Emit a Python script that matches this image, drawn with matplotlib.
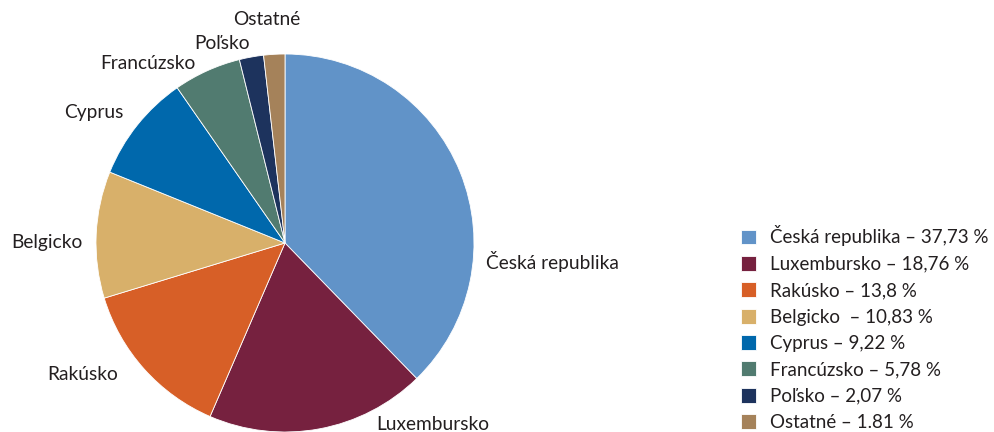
import matplotlib
matplotlib.use("Agg")
import matplotlib.pyplot as plt

plt.rcParams['font.family'] = ['Lato', 'DejaVu Sans']

# share of each country (%)
countries = ['Česká republika', 'Luxembursko', 'Rakúsko', 'Belgicko',
             'Cyprus', 'Francúzsko', 'Poľsko', 'Ostatné']
shares = [37.73, 18.76, 13.8, 10.83, 9.22, 5.78, 2.07, 1.81]
legend_labels = ['Česká republika – 37,73 %', 'Luxembursko – 18,76 %',
                 'Rakúsko – 13,8 %', 'Belgicko  – 10,83 %', 'Cyprus – 9,22 %',
                 'Francúzsko – 5,78 %', 'Poľsko – 2,07 %', 'Ostatné – 1.81 %']
colors = ['#6193C8', '#76213F', '#D75F27', '#D8B06A',
          '#0068AC', '#517B70', '#1D335D', '#A5825A']

# label placement (axes data units, pie radius = 1)
label_pos = [(1.063, -0.10, 'left'), (0.481, -0.958, 'left'),
             (-0.884, -0.698, 'right'), (-1.069, 0.005, 'right'),
             (-0.857, 0.693, 'right'), (-0.476, 0.952, 'right'),
             (-0.185, 1.058, 'right'), (0.079, 1.18, 'right')]

fig = plt.figure(figsize=(9.95, 4.32), dpi=100)
ax = fig.add_axes([96 / 995, 0, 378 / 995, 378 / 432])

wedges, _ = ax.pie(shares, colors=colors, startangle=90, counterclock=False,
                   wedgeprops=dict(edgecolor='white', linewidth=0.6))
ax.set_xlim(-1, 1)
ax.set_ylim(-1, 1)
ax.set_aspect('equal')

for name, (x, y, ha) in zip(countries, label_pos):
    ax.text(x, y, name, ha=ha, va='center', fontsize=13.8,
            color='#231F20', clip_on=False)

fig.legend(wedges, legend_labels, loc='upper left',
           bbox_to_anchor=(733 / 995, 1 - 218 / 432), frameon=False,
           fontsize=13.5, handlelength=0.85, handleheight=0.85,
           handletextpad=0.7, labelspacing=0.5, borderaxespad=0,
           labelcolor='#231F20')

fig.savefig('out.png', dpi=100)
